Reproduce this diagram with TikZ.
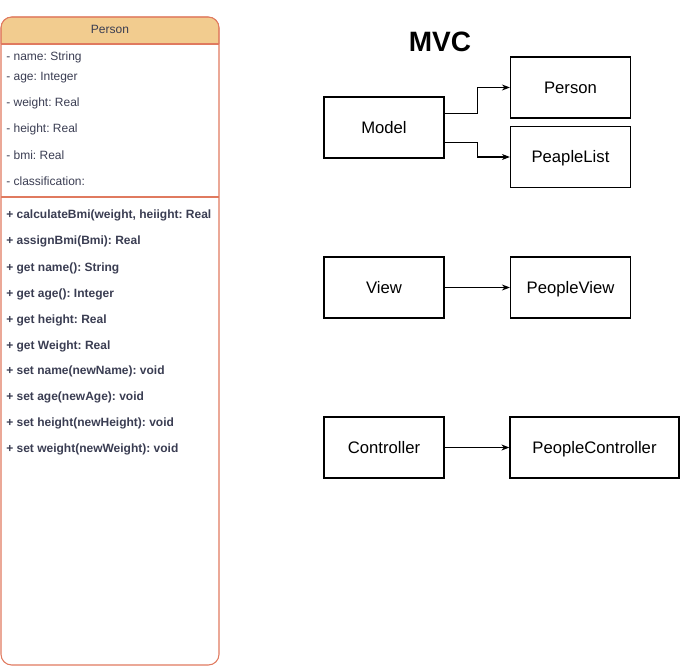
\documentclass[tikz,border=0pt]{standalone}
\usepackage{fontspec}
\setmainfont{Liberation Sans}
\frenchspacing
\usetikzlibrary{arrows.meta, positioning}
\definecolor{umlline}{HTML}{E07A5F}
\definecolor{umlhead}{HTML}{F2CC8F}
\definecolor{umltext}{HTML}{3A3D52}
\tikzset{
  attr/.style={anchor=west, inner sep=0pt, text height=6.8pt, text depth=1.9pt, text=umltext, font=\fontsize{9}{11}\selectfont},
  meth/.style={attr, font=\bfseries\fontsize{9}{11}\selectfont},
  mvcbox/.style={draw, line width=0.9pt, minimum width=90pt, minimum height=45.75pt, text height=9pt, text depth=0pt, font=\fontsize{12.5}{15}\selectfont},
}
\begin{document}
\begin{tikzpicture}[x=0.75pt, y=-0.75pt, >={Stealth[length=6pt]}]
\useasboundingbox (0,0) rectangle (681,666);

% class Person
\begin{scope}
  \clip (0,0) rectangle (221,44);
  \draw[umlline, fill=umlhead, rounded corners=8] (1,17) rectangle (219,665);
\end{scope}
\draw[umlline, thick, rounded corners=8] (1,17) rectangle (219,665);
\draw[umlline, thick] (1,44) -- (219,44);
\draw[umlline, thick] (1,197) -- (219,197);
\node[text=umltext, text height=6.8pt, text depth=1.9pt, font=\fontsize{9}{11}\selectfont] (head) at (110,30.5) {Person};

\foreach \y/\t [count=\i] in {57/name: String, 77/age: Integer, 103/weight: Real,
    129/height: Real, 156/bmi: Real, 182/classification:}
  \node[attr] (att\i) at (6,\y) {- \t};

\foreach \y/\t [count=\i] in {215/{calculateBmi(weight, heiight: Real}, 241/assignBmi(Bmi): Real,
    268/get name(): String, 294/get age(): Integer, 320/get height: Real, 346/get Weight: Real,
    371/set name(newName): void, 397/set age(newAge): void,
    423/set height(newHeight): void, 449/set weight(newWeight): void}
  \node[meth] (op\i) at (6,\y) {+ \t};

% MVC
\node[font=\bfseries\fontsize{21}{24}\selectfont] (title) at (440,42) {MVC};

\node[mvcbox] (model) at (384,127.5) {Model};
\node[mvcbox] (person) at (570.5,87.5) {Person};
\node[mvcbox] (peaplelist) at (570.5,157) {PeapleList};

\node[mvcbox] (view) at (384,287.5) {View};
\node[mvcbox] (peopleview) at (570.5,287.5) {PeopleView};

\node[mvcbox] (controller) at (384,447.5) {Controller};
\node[mvcbox, minimum width=126.75pt] (peoplecontroller) at (594.5,447.5) {PeopleController};

\draw[->, line width=0.8pt] ([yshift=10.5pt]model.east) -- ++(24.75pt,0) |- (person.west);
\draw[->, line width=0.8pt] ([yshift=-11pt]model.east) -- ++(24.75pt,0) |- (peaplelist.west);
\draw[->, line width=0.8pt] (view) -- (peopleview);
\draw[->, line width=0.8pt] (controller) -- (peoplecontroller);

\end{tikzpicture}
\end{document}
